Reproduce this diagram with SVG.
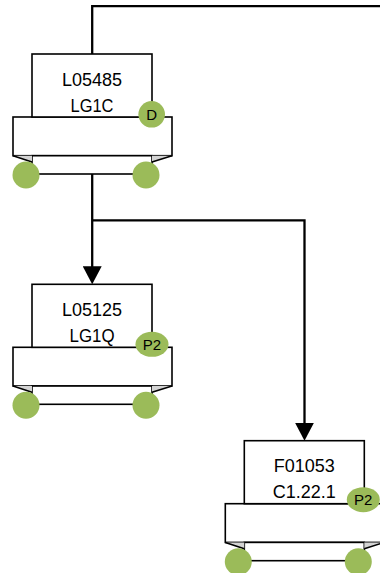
<svg xmlns="http://www.w3.org/2000/svg" xmlns:xlink="http://www.w3.org/1999/xlink" width="380" height="573" viewBox="0 0 380 573">
<style>
.box{fill:#ffffff;stroke:#000000;stroke-width:1.6}
.wedge{fill:#d4d4d4;stroke:none}
.slant{stroke:#000000;stroke-width:1.6;fill:none}
.foot{fill:#9bbb59;stroke:none}
.badge{fill:#9bbb59;stroke:none}
.lbl{font-family:"Liberation Sans",Arial,sans-serif;font-size:18px;fill:#000000;text-anchor:middle}
.btxt{font-family:"Liberation Sans",Arial,sans-serif;font-size:15px;fill:#000000;text-anchor:middle}
.conn{fill:none;stroke:#000000;stroke-width:2.3}
</style>
<defs>
<marker id="arrow" markerUnits="userSpaceOnUse" markerWidth="18" markerHeight="19" refX="10" refY="9.5" orient="auto">
<path d="M0,0 L18,9.5 L0,19 Z" fill="#000000"/>
</marker>
<g id="body">
<rect class="box" x="-19" y="63" width="159" height="38.7"/>
<rect class="box" x="0" y="101.7" width="120" height="18.3"/>
<polygon class="wedge" points="-19,101.7 0,101.7 0,108"/>
<polygon class="wedge" points="140,101.7 120,101.7 120,108"/>
<path class="slant" d="M-19,101.7 L0,108 M140,101.7 L120,108"/>
<rect class="box" x="0" y="0" width="120" height="63"/>
<circle class="foot" cx="-6" cy="121" r="13.5"/>
<circle class="foot" cx="114" cy="121" r="13.5"/>
</g>
</defs>
<g id="connectors">
<path class="conn" d="M380,6.2 H92.2 V54"/>
<path class="conn" d="M92.2,174 V276.3" marker-end="url(#arrow)"/>
<path class="conn" d="M92.2,220.3 H304.5 V432.7" marker-end="url(#arrow)"/>
</g>
<g id="node-L05485" transform="translate(32,54)">
<use xlink:href="#body"/>
<text class="lbl" x="60" y="31.7">L05485</text>
<text class="lbl" x="60" y="57.5" textLength="43" lengthAdjust="spacingAndGlyphs">LG1C</text>
<circle class="badge" cx="119.7" cy="60.3" r="13.3"/>
<text class="btxt" x="119.7" y="65.8">D</text>
</g>
<g id="node-L05125" transform="translate(32,284.3)">
<use xlink:href="#body"/>
<text class="lbl" x="60" y="31.7">L05125</text>
<text class="lbl" x="60" y="57.5" textLength="45" lengthAdjust="spacingAndGlyphs">LG1Q</text>
<ellipse class="badge" cx="120" cy="60" rx="16.5" ry="12.5"/>
<text class="btxt" x="120" y="65.4">P2</text>
</g>
<g id="node-F01053" transform="translate(244.3,440.7)">
<use xlink:href="#body"/>
<text class="lbl" x="60" y="31.7">F01053</text>
<text class="lbl" x="60" y="57.5">C1.22.1</text>
<ellipse class="badge" cx="119" cy="59" rx="16.5" ry="12.5"/>
<text class="btxt" x="119" y="64.4">P2</text>
</g>
</svg>
